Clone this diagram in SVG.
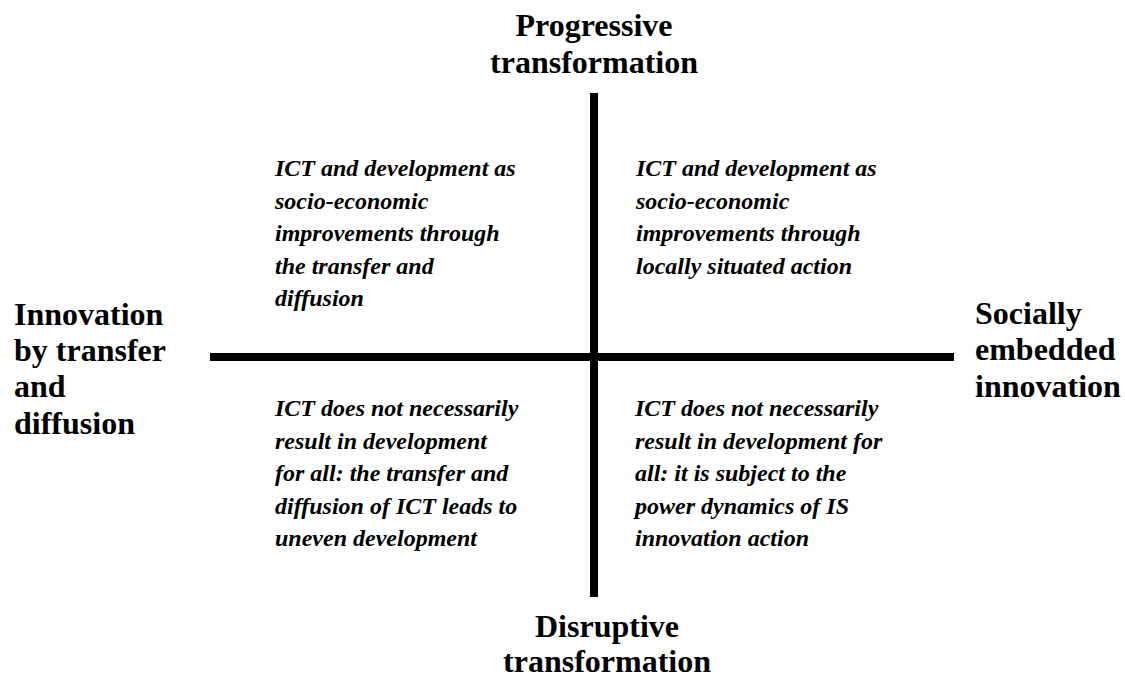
<svg xmlns="http://www.w3.org/2000/svg" width="1125" height="678" viewBox="0 0 1125 678">
<style>
.h{font-family:"Liberation Serif","Times New Roman",serif;font-weight:bold;font-size:32px;fill:#000}
.q{font-family:"Liberation Serif","Times New Roman",serif;font-weight:bold;font-style:italic;font-size:24px;fill:#000}
.ax{stroke:#000;stroke-width:8;fill:none}
</style>
<rect width="1125" height="678" fill="#fff"/>
<g id="connectors">
<line class="ax" x1="210" y1="357" x2="954" y2="357"/>
<line class="ax" x1="594" y1="93" x2="594" y2="597"/>
</g>
<g id="top-label">
<text class="h" text-anchor="middle" x="594" y="36">Progressive</text>
<text class="h" text-anchor="middle" x="594" y="73">transformation</text>
</g>
<g id="bottom-label">
<text class="h" text-anchor="middle" x="607" y="637">Disruptive</text>
<text class="h" text-anchor="middle" x="607" y="672">transformation</text>
</g>
<g id="left-label">
<text class="h" x="14" y="325">Innovation</text>
<text class="h" x="14" y="361">by transfer</text>
<text class="h" x="14" y="397">and</text>
<text class="h" x="14" y="434">diffusion</text>
</g>
<g id="right-label">
<text class="h" x="975" y="324">Socially</text>
<text class="h" x="975" y="360">embedded</text>
<text class="h" x="975" y="397">innovation</text>
</g>
<g id="q-top-left">
<text class="q" x="275" y="176">ICT and development as</text>
<text class="q" x="275" y="208.5">socio-economic</text>
<text class="q" x="275" y="241">improvements through</text>
<text class="q" x="275" y="273.5">the transfer and</text>
<text class="q" x="275" y="306">diffusion</text>
</g>
<g id="q-top-right">
<text class="q" x="636" y="176">ICT and development as</text>
<text class="q" x="636" y="208.5">socio-economic</text>
<text class="q" x="636" y="241">improvements through</text>
<text class="q" x="636" y="273.5">locally situated action</text>
</g>
<g id="q-bottom-left">
<text class="q" x="275" y="416">ICT does not necessarily</text>
<text class="q" x="275" y="448.5">result in development</text>
<text class="q" x="275" y="481">for all: the transfer and</text>
<text class="q" x="275" y="513.5">diffusion of ICT leads to</text>
<text class="q" x="275" y="546">uneven development</text>
</g>
<g id="q-bottom-right">
<text class="q" x="635" y="416">ICT does not necessarily</text>
<text class="q" x="635" y="448.5">result in development for</text>
<text class="q" x="635" y="481">all: it is subject to the</text>
<text class="q" x="635" y="513.5">power dynamics of IS</text>
<text class="q" x="635" y="546">innovation action</text>
</g>
</svg>
